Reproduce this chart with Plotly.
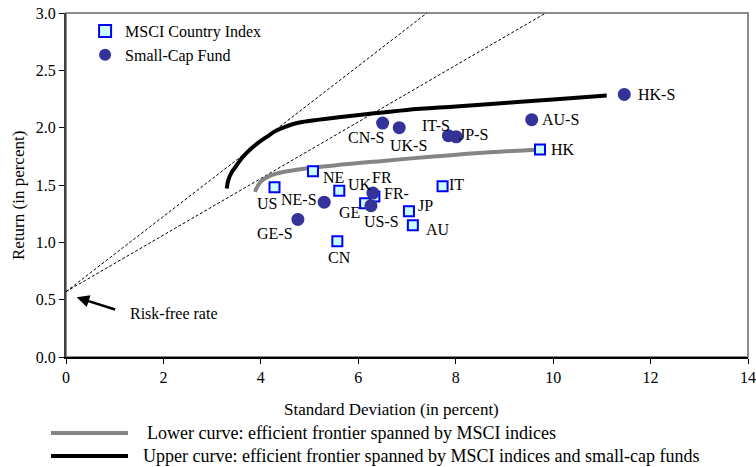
import plotly.graph_objects as go

# ---------------- data ----------------
msci_labels = ["US", "NE", "UK", "FR", "GE", "CN", "IT", "JP", "AU", "HK"]
msci_sd = [4.28, 5.07, 5.61, 6.33, 6.14, 5.57, 7.73, 7.04, 7.12, 9.73]
msci_ret = [1.48, 1.62, 1.45, 1.40, 1.34, 1.01, 1.49, 1.27, 1.15, 1.81]

small_labels = ["GE-S", "NE-S", "FR-", "US-S", "CN-S", "UK-S", "IT-S", "JP-S", "AU-S", "HK-S"]
small_sd = [4.76, 5.30, 6.30, 6.26, 6.50, 6.84, 7.85, 8.01, 9.56, 11.46]
small_ret = [1.20, 1.35, 1.43, 1.32, 2.04, 2.00, 1.93, 1.92, 2.07, 2.29]

upper_sd = [3.30, 3.33, 3.40, 3.50, 3.62, 3.78, 3.95, 4.12, 4.30, 4.46, 4.65, 4.85,
            5.20, 5.60, 6.20, 7.00, 8.00, 9.00, 10.00, 11.10]
upper_ret = [1.47, 1.54, 1.61, 1.67, 1.74, 1.81, 1.87, 1.92, 1.97, 2.00, 2.03, 2.05,
             2.07, 2.09, 2.12, 2.155, 2.185, 2.215, 2.245, 2.28]

lower_sd = [3.88, 4.00, 4.25, 4.70, 5.50, 6.50, 7.60, 8.70, 9.73]
lower_ret = [1.44, 1.53, 1.59, 1.63, 1.67, 1.71, 1.75, 1.785, 1.81]

risk_free = 0.57
tan_upper_sd = [0.0, 7.41]
tan_upper_ret = [risk_free, 3.0]
tan_lower_sd = [0.0, 9.85]
tan_lower_ret = [risk_free, 3.0]

x_ticks = [0, 2, 4, 6, 8, 10, 12, 14]
y_ticks = [0.0, 0.5, 1.0, 1.5, 2.0, 2.5, 3.0]

# label offsets (pixels) — style only
msci_off = {"US": (-8, 16), "NE": (21, 6), "UK": (21, -6), "FR": (8, -19), "GE": (-16, 9),
            "CN": (2, 16), "IT": (14, -2), "JP": (17, -6), "AU": (25, 4), "HK": (23, 0)}
small_off = {"GE-S": (-23, 14), "NE-S": (-25, -3), "FR-": (24, 0), "US-S": (11, 16),
             "CN-S": (-17, 14), "UK-S": (9, 18), "IT-S": (-12, -10), "JP-S": (17, -2),
             "AU-S": (29, 0), "HK-S": (32, 0)}

FONT = "Liberation Serif"

W, H = 756, 467
L, R, T, B = 66, 8, 13, 110
pw, ph = W - L - R, H - T - B


def px2paper(px, py):
    return (px - L) / pw, (H - B - py) / ph


fig = go.Figure()

# tangent lines
fig.add_trace(go.Scatter(x=tan_upper_sd, y=tan_upper_ret, mode="lines",
                         line=dict(color="black", width=1, dash="3px,2px"),
                         showlegend=False, hoverinfo="skip"))
fig.add_trace(go.Scatter(x=tan_lower_sd, y=tan_lower_ret, mode="lines",
                         line=dict(color="black", width=1, dash="3px,2px"),
                         showlegend=False, hoverinfo="skip"))

# frontiers
fig.add_trace(go.Scatter(x=lower_sd, y=lower_ret, mode="lines",
                         line=dict(color="#858585", width=4, shape="spline", smoothing=1.2),
                         showlegend=False, name="Lower curve"))
fig.add_trace(go.Scatter(x=upper_sd, y=upper_ret, mode="lines",
                         line=dict(color="black", width=4, shape="spline"),
                         showlegend=False, name="Upper curve"))

# points
fig.add_trace(go.Scatter(x=msci_sd, y=msci_ret, mode="markers", name="MSCI Country Index",
                         marker=dict(symbol="square", size=10, color="#CCFFFF",
                                     line=dict(color="#0000FF", width=2)),
                         text=msci_labels))
fig.add_trace(go.Scatter(x=small_sd, y=small_ret, mode="markers", name="Small-Cap Fund",
                         marker=dict(symbol="circle", size=13, color="#333399",
                                     line=dict(width=0)),
                         text=small_labels))

annotations = []
for lab, xv, yv in zip(msci_labels, msci_sd, msci_ret):
    dx, dy = msci_off[lab]
    annotations.append(dict(x=xv, y=yv, xref="x", yref="y", text=lab, showarrow=False,
                            xshift=dx, yshift=-dy, xanchor="center", yanchor="middle",
                            font=dict(family=FONT, size=16, color="black")))
for lab, xv, yv in zip(small_labels, small_sd, small_ret):
    dx, dy = small_off[lab]
    annotations.append(dict(x=xv, y=yv, xref="x", yref="y", text=lab, showarrow=False,
                            xshift=dx, yshift=-dy, xanchor="center", yanchor="middle",
                            font=dict(family=FONT, size=16, color="black")))

# risk-free annotation
annotations.append(dict(x=0.22, y=0.52, xref="x", yref="y", ax=1.04, ay=0.41,
                        axref="x", ayref="y", text="", showarrow=True,
                        arrowhead=2, arrowsize=1, arrowwidth=2.5, arrowcolor="black"))
annotations.append(dict(x=1.27, y=0.38, xref="x", yref="y", text="Risk-free rate",
                        showarrow=False, xanchor="left", yanchor="middle",
                        font=dict(family=FONT, size=16, color="black")))

# axis titles
xt_x, xt_y = px2paper(391, 409)
yt_x, yt_y = px2paper(18, 195)
annotations.append(dict(x=xt_x, y=xt_y, xref="paper", yref="paper",
                        text="Standard Deviation (in percent)", showarrow=False,
                        xanchor="center", yanchor="middle",
                        font=dict(family=FONT, size=17, color="black")))
annotations.append(dict(x=yt_x, y=yt_y, xref="paper", yref="paper",
                        text="Return (in percent)", showarrow=False, textangle=-90,
                        xanchor="center", yanchor="middle",
                        font=dict(family=FONT, size=17, color="black")))

# bottom legend for curves
lx0, ly = px2paper(51, 433)
lx1, _ = px2paper(128, 433)
ux0, uy = px2paper(51, 456)
ux1, _ = px2paper(128, 456)
tx_l, _ = px2paper(145, 433)
tx_u, _ = px2paper(141, 456)

shapes = [
    dict(type="rect", xref="paper", yref="paper", x0=0, y0=0, x1=1, y1=1,
         line=dict(color="#8c8c8c", width=2), layer="below"),
    dict(type="line", xref="paper", yref="paper", x0=lx0, x1=lx1, y0=ly, y1=ly,
         line=dict(color="#858585", width=4)),
    dict(type="line", xref="paper", yref="paper", x0=ux0, x1=ux1, y0=uy, y1=uy,
         line=dict(color="black", width=4)),
]
annotations.append(dict(x=tx_l, y=ly, xref="paper", yref="paper",
                        text="Lower curve: efficient frontier spanned by MSCI indices",
                        showarrow=False, xanchor="left", yanchor="middle",
                        font=dict(family=FONT, size=18, color="black")))
annotations.append(dict(x=tx_u, y=uy, xref="paper", yref="paper",
                        text="Upper curve: efficient frontier spanned by MSCI indices and small-cap funds",
                        showarrow=False, xanchor="left", yanchor="middle",
                        font=dict(family=FONT, size=18, color="black")))

fig.update_layout(
    width=W, height=H,
    margin=dict(l=L, r=R, t=T, b=B, autoexpand=False),
    paper_bgcolor="white", plot_bgcolor="white",
    font=dict(family=FONT, size=16, color="black"),
    showlegend=True,
    legend=dict(x=0.028, y=0.997, xanchor="left", yanchor="top",
                bgcolor="rgba(0,0,0,0)", font=dict(family=FONT, size=16),
                itemsizing="constant", tracegroupgap=6),
    shapes=shapes,
    annotations=annotations,
)
fig.update_xaxes(range=[0, 14], tickvals=x_ticks, ticktext=[str(v) for v in x_ticks],
                 showgrid=False, zeroline=False, showline=True, linecolor="black", linewidth=1.5,
                 ticks="outside", ticklen=5, tickcolor="black", automargin=False,
                 tickfont=dict(family=FONT, size=16))
fig.update_yaxes(range=[0, 3], tickvals=y_ticks, ticktext=[f"{v:.1f}" for v in y_ticks],
                 showgrid=False, zeroline=False, showline=True, linecolor="#404040", linewidth=2,
                 ticks="outside", ticklen=5, tickcolor="black", automargin=False,
                 tickfont=dict(family=FONT, size=16))

fig.write_html("out.html", config={"displayModeBar": False},
               post_script="document.body.style.margin='0';document.body.style.overflow='hidden';")
